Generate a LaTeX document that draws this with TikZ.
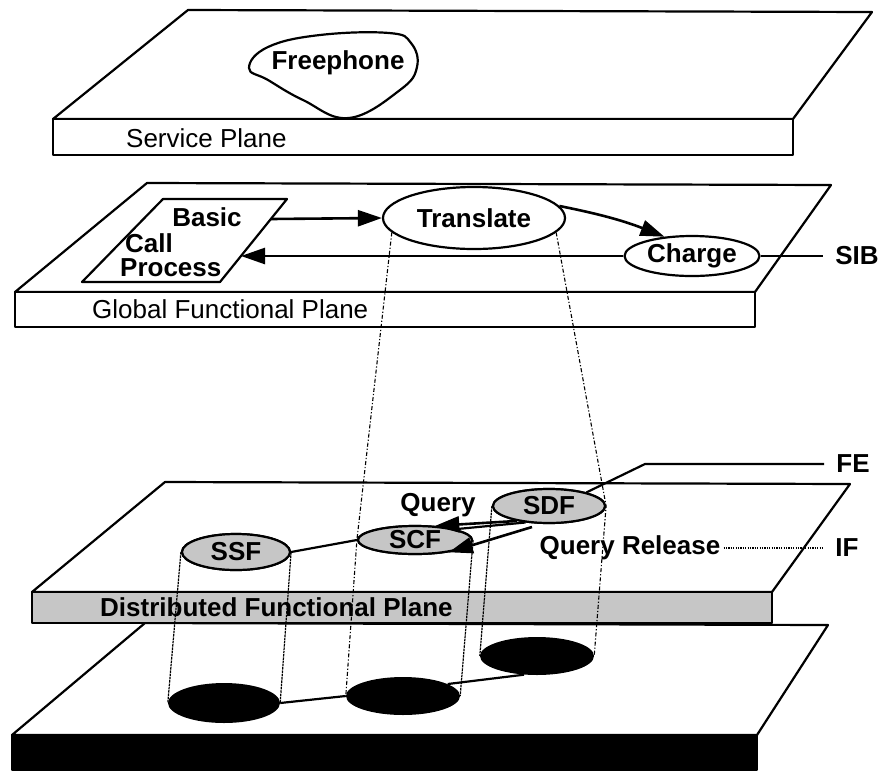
\documentclass[tikz,border=0pt]{standalone}
\usepackage{fontspec}
\setmainfont{Liberation Sans}
\usetikzlibrary{arrows.meta,shapes.geometric}
\begin{document}
\begin{tikzpicture}[x=1pt,y=-1pt,
 plane/.style={line width=2.2pt, line join=round},
 lbl/.style={font=\fontsize{26}{26}\selectfont\bfseries, inner sep=0pt},
 plbl/.style={font=\fontsize{26}{26}\selectfont, inner sep=0pt, anchor=west},
 oval/.style={ellipse, draw, line width=2.2pt, inner sep=0pt, fill=white, font=\fontsize{26}{26}\selectfont\bfseries},
 fent/.style={ellipse, draw, line width=2.2pt, inner sep=0pt, fill=gray!45, font=\fontsize{26}{26}\selectfont\bfseries},
 disc/.style={ellipse, fill=black, inner sep=0pt},
 conn/.style={line width=2.2pt},
 arr/.style={line width=2.6pt, -{Triangle[length=24pt,width=16pt]}},
 proj/.style={line width=1.1pt, dash pattern=on 4pt off 2pt on 1.2pt off 2pt},
 cyl/.style={line width=1.2pt, dash pattern=on 2.5pt off 0.8pt},
 dotline/.style={line width=1.8pt, dash pattern=on 1.2pt off 1.2pt}]
\useasboundingbox (0,0) rectangle (889,772);

% ---------- Service plane ----------
\draw[plane, fill=white] (188,10) -- (872,12) -- (793,119) -- (53,119) -- cycle;
\draw[plane, fill=white] (53,119) rectangle (793,155);
\draw[line width=2.2pt] plot[smooth cycle, tension=0.7] coordinates
  {(249,68) (268,47) (320,35) (389,33) (411,43) (417,67) (400,90) (349,118) (303,100) (268,80)};
\node[lbl] (fp) at (338,63) {Freephone};
\node[plbl] (sp) at (126,138) {Service Plane};

% ---------- Global functional plane ----------
\draw[plane, fill=white] (147,183) -- (831,185) -- (755,292) -- (15,292) -- cycle;
\draw[plane, fill=white] (15,292) rectangle (755,327);
\node[plbl] (gp) at (92,309) {Global Functional Plane};

\draw[plane] (163,199) -- (287,199) -- (220,282) -- (82,282) -- cycle;
\node[lbl] (basic) at (207,217) {Basic};
\node[lbl, anchor=west] (call) at (125,243) {Call};
\node[lbl, anchor=west] (proc) at (120,268) {Process};
\coordinate (bcpA) at (271,219);
\coordinate (bcpB) at (241,256);

\node[oval, minimum width=182pt, minimum height=62pt] (tr) at (474,218) {Translate};
\node[oval, minimum width=135pt, minimum height=40pt] (ch) at (692,256) {Charge};
\node[lbl] (sib) at (857,256) {SIB};

\draw[arr] (bcpA) -- (tr.west);
\draw[arr] (tr.8) to[bend left=5] (ch.145);
\draw[arr] (ch.west) -- (bcpB);
\draw[conn] (ch.east) -- ([xshift=-12pt]sib.west);

% ---------- Bottom (physical) plane ----------
\draw[plane, fill=white] (145,623) -- (828,625) -- (757,735) -- (12,735) -- cycle;
\draw[plane, fill=black] (12,735) rectangle (757,770);
\node[disc, minimum width=112pt, minimum height=40pt] (d1) at (224,703) {};
\node[disc, minimum width=114pt, minimum height=38pt] (d2) at (403,696) {};
\node[disc, minimum width=114pt, minimum height=38pt] (d3) at (537,656) {};
\draw[conn] (d1.east) -- (d2.west);
\draw[conn] (d2.15) -- (d3.235);

% ---------- Distributed functional plane ----------
\draw[plane, fill=white] (165,482) -- (850,484) -- (772,592) -- (32,592) -- cycle;
\draw[plane, fill=gray!45] (32,592) rectangle (772,623);
\node[lbl, anchor=west] (dp) at (100,607) {Distributed Functional Plane};

% functional entities (named here, drawn again on top of the walls)
\path (236,552) node[fent, minimum width=108pt, minimum height=36pt] (ssf) {SSF};
\path (415,540) node[fent, minimum width=114pt, minimum height=28pt] (scf) {SCF};
\path (549,506) node[fent, minimum width=112pt, minimum height=34pt] (sdf) {SDF};

% cylinder walls and projection lines
\draw[cyl] (ssf.west) -- (d1.west);
\draw[cyl] (ssf.east) -- (d1.east);
\draw[cyl] (scf.east) -- (d2.east);
\draw[cyl] (sdf.west) -- (d3.west);
\draw[proj] (tr.190) -- (scf.west) -- (d2.west);
\draw[proj] (tr.-10) -- (sdf.east) -- (d3.east);

\path (236,552) node[fent, minimum width=108pt, minimum height=36pt] {SSF};
\path (415,540) node[fent, minimum width=114pt, minimum height=28pt] {SCF};
\path (549,506) node[fent, minimum width=112pt, minimum height=34pt] {SDF};

\draw[conn] (ssf.east) -- (scf.west);
\draw[conn] (scf.15) -- (sdf.215);
\draw[arr] (sdf.205) -- (scf.35);
\coordinate (relS) at (532,527);
\draw[arr] (relS) -- (scf.-20);

\node[lbl] (q) at (438,505) {Query};
\node[lbl] (qr) at (630,548) {Query Release};
\node[lbl] (if) at (847,548) {IF};
\draw[dotline] ([xshift=3pt]qr.east) -- ([xshift=-12pt]if.west);

\node[lbl] (fe) at (853,464) {FE};
\coordinate (feK) at (645,464);
\draw[conn] (sdf.20) -- (feK) -- ([xshift=-12pt]fe.west);
\end{tikzpicture}
\end{document}
